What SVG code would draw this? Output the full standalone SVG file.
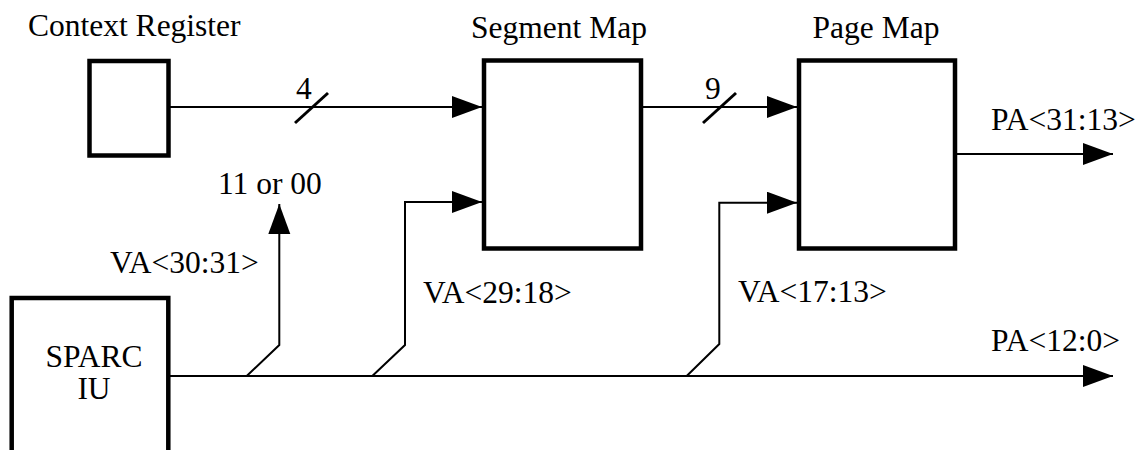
<svg xmlns="http://www.w3.org/2000/svg" width="1143" height="450" viewBox="0 0 1143 450">
<defs>
<marker id="arr" markerUnits="userSpaceOnUse" markerWidth="32" markerHeight="24" refX="30" refY="11" orient="auto">
<path d="M0,0 L30,11 L0,22 Z" fill="#000"/>
</marker>
<style>
.box{fill:#fff;stroke:#000;stroke-width:4.5}
.w{fill:none;stroke:#000;stroke-width:2}
.s{fill:none;stroke:#000;stroke-width:3}
text{font-family:'Liberation Serif','Times New Roman','DejaVu Serif',serif;font-size:31.5px;fill:#000}
</style>
</defs>
<rect width="1143" height="450" fill="#fff"/>
<g id="connectors" font-family="Liberation Serif, DejaVu Serif, serif">
<path class="w" d="M169,107 H482" marker-end="url(#arr)"/>
<path class="s" d="M295,123 L328,93"/>
<path class="w" d="M641,107 H797" marker-end="url(#arr)"/>
<path class="s" d="M703,123 L736,93"/>
<path class="w" d="M955,154 H1113" marker-end="url(#arr)"/>
<path class="w" d="M168,376 H1113" marker-end="url(#arr)"/>
<path class="w" d="M246.7,376 L279.3,345 V204" marker-end="url(#arr)"/>
<path class="w" d="M372.3,376 L405,345 V202 H482" marker-end="url(#arr)"/>
<path class="w" d="M686.7,376 L719.3,344 V202.7 H797" marker-end="url(#arr)"/>
<text x="296" y="99">4</text>
<text x="705" y="99">9</text>
<text x="218" y="194">11 or 00</text>
<text x="110" y="273">VA&lt;30:31&gt;</text>
<text x="423" y="302.7">VA&lt;29:18&gt;</text>
<text x="738" y="302">VA&lt;17:13&gt;</text>
<text x="991" y="130">PA&lt;31:13&gt;</text>
<text x="991" y="350.7">PA&lt;12:0&gt;</text>
</g>
<g id="context-register" font-family="Liberation Serif, DejaVu Serif, serif">
<rect class="box" x="89.5" y="61" width="79" height="94.5"/>
<text x="28" y="36">Context Register</text>
</g>
<g id="segment-map" font-family="Liberation Serif, DejaVu Serif, serif">
<rect class="box" x="484" y="60.5" width="157" height="188"/>
<text x="559" y="37.5" text-anchor="middle">Segment Map</text>
</g>
<g id="page-map" font-family="Liberation Serif, DejaVu Serif, serif">
<rect class="box" x="799" y="60.5" width="156" height="188"/>
<text x="876" y="37.5" text-anchor="middle">Page Map</text>
</g>
<g id="sparc-iu" font-family="Liberation Serif, DejaVu Serif, serif">
<rect class="box" x="11.7" y="298" width="156.6" height="200"/>
<text x="94" y="366.7" text-anchor="middle">SPARC</text>
<text x="94" y="399" text-anchor="middle">IU</text>
</g>
</svg>
